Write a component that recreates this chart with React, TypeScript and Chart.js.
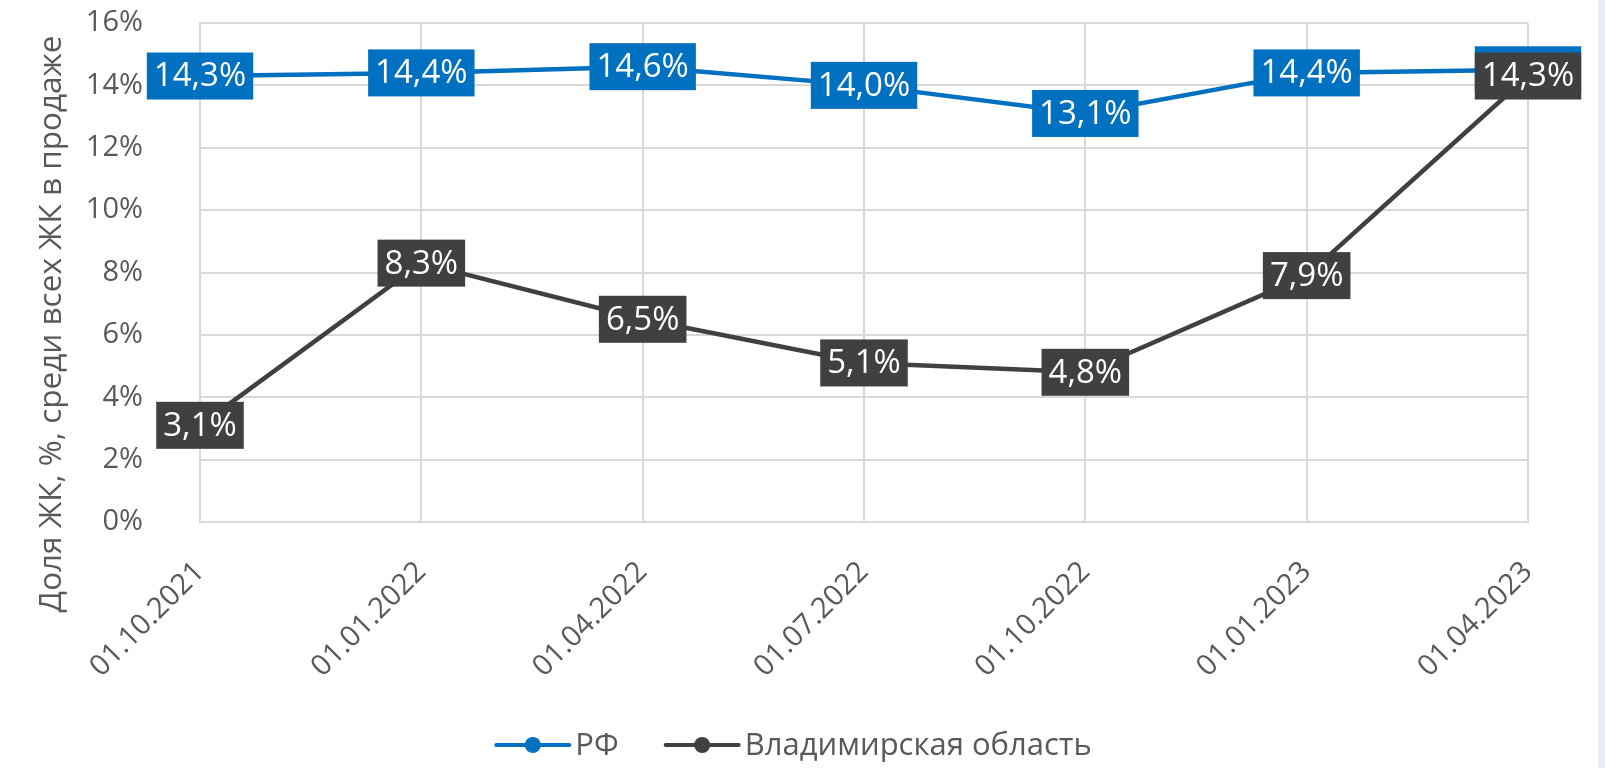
import React, { useEffect, useRef } from "react";
import { Chart, registerables } from "chart.js";

Chart.register(...registerables);

const categories = ["01.10.2021", "01.01.2022", "01.04.2022", "01.07.2022", "01.10.2022", "01.01.2023", "01.04.2023"];
const rfValues = [14.3, 14.4, 14.6, 14.0, 13.1, 14.4, 14.5];
const vladimirValues = [3.1, 8.3, 6.5, 5.1, 4.8, 7.9, 14.3];
const seriesNames = ["РФ", "Владимирская область"];
const seriesColors = ["#0070C0", "#404040"];
const yTitle = "Доля ЖК, %, среди всех ЖК в продаже";
const FONT = "'Open Sans', 'Noto Sans', sans-serif";
const TEXT_COLOR = "#595959";
const GRID_COLOR = "#D9D9D9";

const fmt = (v: number) => v.toFixed(1).replace(".", ",") + "%";

const labelPlugin = {
  id: "boxLabels",
  afterDatasetsDraw(chart: any) {
    const ctx = chart.ctx;
    ctx.save();
    ctx.font = `33px ${FONT}`;
    ctx.textAlign = "center";
    ctx.textBaseline = "middle";
    chart.data.datasets.forEach((ds: any, di: number) => {
      const meta = chart.getDatasetMeta(di);
      meta.data.forEach((pt: any, i: number) => {
        const txt = fmt(ds.data[i]);
        const w = ctx.measureText(txt).width + 14;
        const h = 47;
        ctx.fillStyle = ds.borderColor;
        ctx.fillRect(pt.x - w / 2, pt.y - h / 2, w, h);
        ctx.fillStyle = "#FFFFFF";
        ctx.fillText(txt, pt.x, pt.y + 1);
      });
    });
    ctx.restore();
  },
  afterDraw(chart: any) {
    const ctx = chart.ctx;
    ctx.save();
    // y axis title
    ctx.font = `31.5px ${FONT}`;
    ctx.fillStyle = TEXT_COLOR;
    ctx.textAlign = "center";
    ctx.textBaseline = "middle";
    ctx.translate(52, 324);
    ctx.rotate(-Math.PI / 2);
    ctx.fillText(yTitle, 0, 0);
    ctx.restore();

    // legend
    ctx.save();
    ctx.font = `31px ${FONT}`;
    ctx.textBaseline = "middle";
    ctx.textAlign = "left";
    const lineLen = 73;
    const gapText = 6;
    const gapItem = 47;
    const ds = chart.data.datasets;
    const widths = ds.map((d: any) => lineLen + gapText + ctx.measureText(d.label).width);
    const total = widths.reduce((a: number, b: number) => a + b, 0) + gapItem * (ds.length - 1);
    let x = 794 - total / 2;
    const y = 745;
    ds.forEach((d: any, i: number) => {
      ctx.strokeStyle = d.borderColor;
      ctx.lineWidth = 4;
      ctx.lineCap = "round";
      ctx.beginPath();
      ctx.moveTo(x, y);
      ctx.lineTo(x + lineLen, y);
      ctx.stroke();
      ctx.fillStyle = d.borderColor;
      ctx.beginPath();
      ctx.arc(x + lineLen / 2, y, 8, 0, Math.PI * 2);
      ctx.fill();
      ctx.fillStyle = TEXT_COLOR;
      ctx.fillText(d.label, x + lineLen + gapText, y + 1);
      x += widths[i] + gapItem;
    });
    ctx.restore();
  },
};

export default function App() {
  const ref = useRef<HTMLCanvasElement>(null);
  useEffect(() => {
    if (!ref.current) return;
    const chart = new Chart(ref.current, {
      type: "line",
      data: {
        labels: categories,
        datasets: [
          {
            label: seriesNames[0],
            data: rfValues,
            borderColor: seriesColors[0],
            backgroundColor: seriesColors[0],
            borderWidth: 4.5,
            pointRadius: 0,
            tension: 0,
          },
          {
            label: seriesNames[1],
            data: vladimirValues,
            borderColor: seriesColors[1],
            backgroundColor: seriesColors[1],
            borderWidth: 4.5,
            pointRadius: 0,
            tension: 0,
          },
        ],
      },
      options: {
        animation: false,
        responsive: false,
        maintainAspectRatio: false,
        layout: { padding: { top: 23, right: 70, bottom: 46, left: 0 } },
        plugins: {
          legend: { display: false },
          tooltip: { enabled: false },
        },
        scales: {
          x: {
            offset: false,
            grid: { color: GRID_COLOR, lineWidth: 2, drawTicks: false },
            border: { color: GRID_COLOR, width: 2 },
            ticks: {
              color: TEXT_COLOR,
              font: { family: FONT, size: 29 },
              maxRotation: 45,
              minRotation: 45,
              padding: 33,
              autoSkip: false,
            },
            afterFit: (s: any) => {
              s.height = 200;
            },
          },
          y: {
            min: 0,
            max: 16,
            grid: { color: GRID_COLOR, lineWidth: 2, drawTicks: false },
            border: { color: GRID_COLOR, width: 2 },
            ticks: {
              stepSize: 2,
              color: TEXT_COLOR,
              font: { family: FONT, size: 29 },
              padding: 57,
              callback: (v: any) => v + "%",
            },
            afterFit: (s: any) => {
              s.width = 200;
              s.paddingTop = 0;
              s.paddingBottom = 0;
            },
          },
        },
      },
      plugins: [labelPlugin],
    });
    return () => chart.destroy();
  }, []);
  return (
    <div style={{ position: "fixed", left: 0, top: 0, width: 1605, height: 768, background: "#FFFFFF", overflow: "hidden" }}>
      <canvas ref={ref} width={1598} height={768} style={{ position: "absolute", left: 0, top: 0, width: 1598, height: 768 }} />
      <div style={{ position: "absolute", left: 1598, top: 0, width: 7, height: 768, background: "#E8ECF5" }} />
    </div>
  );
}
